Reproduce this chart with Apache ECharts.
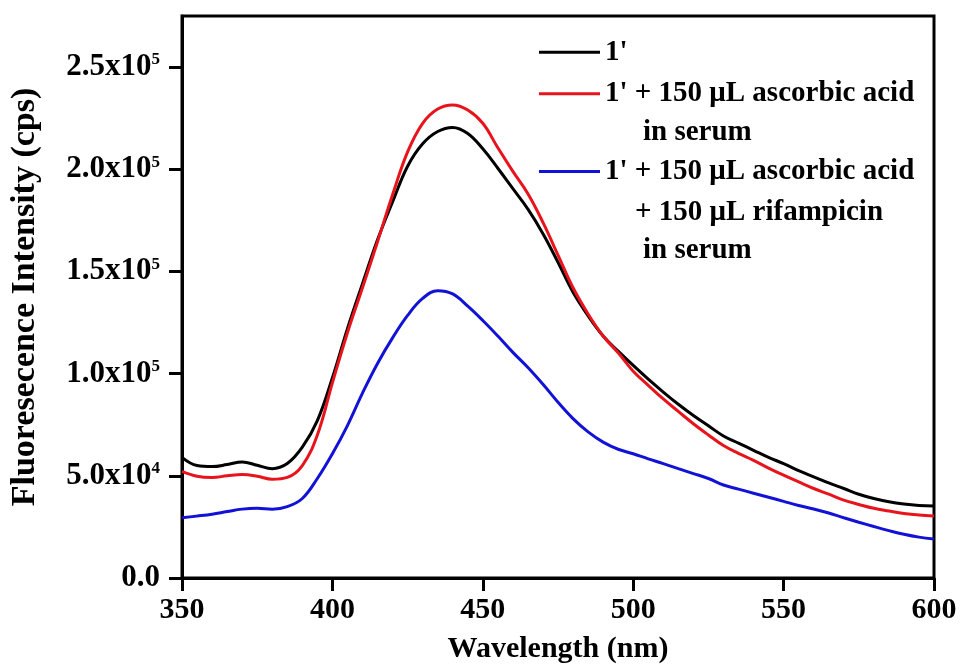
<!DOCTYPE html>
<html><head><meta charset="utf-8">
<script src="https://cdn.jsdelivr.net/npm/echarts@6/dist/echarts.min.js"></script>
<style>html,body{margin:0;padding:0;background:#fff}#c{width:960px;height:669px}</style>
</head><body><div id="c"></div>
<script>
const wavelengths = [350,355,360,365,370,375,380,385,390,395,400,405,410,415,420,425,430,435,440,445,450,455,460,465,470,475,480,485,490,495,500,505,510,515,520,525,530,535,540,545,550,555,560,565,570,575,580,585,590,595,600];
const seriesNames = ["1'", "1' + 150 μL ascorbic acid in serum", "1' + 150 μL ascorbic acid + 150 μL rifampicin in serum"];
const legendFirstLines = ["1'", "1' + 150 μL ascorbic acid", "1' + 150 μL ascorbic acid"];
const legendExtraLines = ["in serum", "+ 150 μL rifampicin", "in serum"];
const blackVals = [59000,55000,54500,55500,56800,55200,53500,56000,64000,77000,98000,122000,144000,165500,184000,201500,212500,218500,220500,217500,210000,200500,190500,180500,168500,154500,139800,128300,118400,111000,104000,97300,91000,85000,79500,74500,69500,66000,62500,59000,56000,52500,49500,46500,43800,41000,38900,37300,36200,35500,35200];
const redVals = [52200,49800,49200,50000,50600,49800,48300,49200,55000,70000,95500,120000,142000,164500,187500,208500,222500,229500,231500,229000,222500,210500,199000,188000,174000,158000,142000,129200,118400,110200,101200,94300,87600,81500,75500,70000,64800,61000,57600,53800,50300,47000,43800,41000,38100,36000,34100,32800,31600,30800,30300];
const blueVals = [29500,30300,31200,32500,33700,34100,33700,34900,38900,48700,60800,74600,90500,105000,117500,128500,136800,140600,139000,133000,126000,118400,110400,103000,94800,86000,78000,71500,66500,63000,60800,58300,56000,53500,51100,48700,45500,43500,41500,39500,37500,35500,33800,31800,29500,27300,25200,23200,21400,20000,19100];
const yTicks = [0,50000,100000,150000,200000,250000];
const xTicks = [350,400,450,500,550,600];
const colors = ['#000000', '#e8141b', '#1212d6'];

const FONT = 'Liberation Serif';
const chart = echarts.init(document.getElementById('c'), null, {renderer: 'canvas'});

function yFmt(v) {
  if (v === 0) return '{m|0.0}';
  const e = Math.floor(Math.log10(v) + 1e-9);
  const m = (v / Math.pow(10, e)).toFixed(1);
  return '{m|' + m + 'x10}{s|' + e + '}';
}

const allVals = [blackVals, redVals, blueVals];
const series = seriesNames.map((n, i) => ({
  name: n, type: 'line', symbol: 'none', smooth: 0.4,
  data: wavelengths.map((w, k) => [w, allVals[i][k]]),
  lineStyle: {color: colors[i], width: 3}, itemStyle: {color: colors[i]}
}));

const legendRowsY = [51.7, 93.3, 171];
const legends = seriesNames.map((n, i) => ({
  data: [{name: n, icon: 'rect'}], left: 539, top: legendRowsY[i] - 14, orient: 'vertical', padding: 0,
  itemWidth: 61, itemHeight: 3, selectedMode: false,
  formatter: (name) => legendFirstLines[seriesNames.indexOf(name)],
  textStyle: {fontFamily: FONT, fontWeight: 'bold', fontSize: 29, color: '#000'}
}));

const extraPos = [[643, 131.7], [635, 211.7], [643, 250]];
const graphics = legendExtraLines.map((t, i) => ({
  type: 'text', left: extraPos[i][0], top: extraPos[i][1] - 14,
  style: {text: t, fontFamily: FONT, fontWeight: 'bold', fontSize: 29, fill: '#000'}
}));

chart.setOption({
  animation: false,
  backgroundColor: '#fff',
  grid: {left: 177, right: 26, top: 16, bottom: 89, show: true, borderColor: '#000', borderWidth: 3, containLabel: false},
  legend: legends,
  graphic: graphics,
  xAxis: {
    type: 'value', min: 350, max: 600, interval: 50,
    name: 'Wavelength (nm)', nameLocation: 'middle', nameGap: 56,
    nameTextStyle: {fontFamily: FONT, fontWeight: 'bold', fontSize: 30, color: '#000'},
    axisLine: {show: true, lineStyle: {color: '#000', width: 3}},
    axisTick: {show: true, inside: false, length: 13, lineStyle: {color: '#000', width: 3}},
    axisLabel: {fontFamily: FONT, fontWeight: 'bold', fontSize: 30, color: '#000', margin: 17},
    splitLine: {show: false}
  },
  yAxis: {
    type: 'value', min: 0, max: 275000, interval: 50000,
    name: 'Fluoresecence Intensity (cps)', nameLocation: 'middle', nameGap: 140,
    nameTextStyle: {fontFamily: FONT, fontWeight: 'bold', fontSize: 34, color: '#000'},
    axisLine: {show: true, lineStyle: {color: '#000', width: 3}},
    axisTick: {show: true, inside: false, length: 13, customValues: yTicks, lineStyle: {color: '#000', width: 3}},
    axisLabel: {
      customValues: yTicks, formatter: yFmt, margin: 22, color: '#000',
      rich: {
        m: {fontFamily: FONT, fontWeight: 'bold', fontSize: 31, color: '#000'},
        s: {fontFamily: FONT, fontWeight: 'bold', fontSize: 17, color: '#000', verticalAlign: 'top', padding: [0, 0, 12, 0]}
      }
    },
    splitLine: {show: false}
  },
  series: series
});
</script>
</body></html>
